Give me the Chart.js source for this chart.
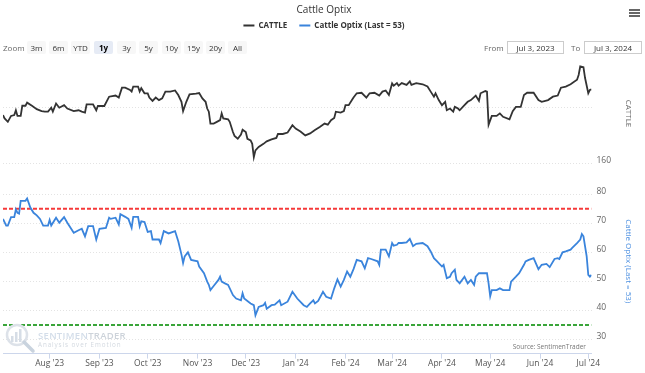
<!DOCTYPE html>
<html><head><meta charset="utf-8">
<script src="https://cdn.jsdelivr.net/npm/chart.js@4.4.1/dist/chart.umd.min.js"></script>
<style>
html,body{margin:0;padding:0;background:#fff;}
#wrap{position:relative;width:645px;height:373px;font-family:"Open Sans",sans-serif;overflow:hidden;}
#c{position:absolute;left:0;top:0;}
.ov{position:absolute;white-space:nowrap;z-index:2;}
.btn{position:absolute;top:41px;height:13px;line-height:13px;width:19px;font-size:8px;color:#333;background:#f7f7f7;text-align:center;border-radius:2px;z-index:2;}
.btn.sel{background:#e6ebf5;font-weight:700;color:#000;}
.lbl{position:absolute;top:41px;height:13px;line-height:13px;font-size:8px;color:#666;z-index:2;}
.box{position:absolute;top:41px;height:11px;line-height:11px;border:1px solid #ccc;font-size:8px;color:#333;text-align:center;z-index:2;background:#fff;}
.bar{position:absolute;left:629px;width:11px;height:2px;background:#666;z-index:2;}
</style></head>
<body>
<div id="wrap">
<canvas id="c" width="645" height="373"></canvas>
<div class="lbl" style="left:3px">Zoom</div>
<div class="btn" style="left:27px">3m</div>
<div class="btn" style="left:49px">6m</div>
<div class="btn" style="left:71px">YTD</div>
<div class="btn sel" style="left:94px">1y</div>
<div class="btn" style="left:117px">3y</div>
<div class="btn" style="left:139px">5y</div>
<div class="btn" style="left:162px">10y</div>
<div class="btn" style="left:184px">15y</div>
<div class="btn" style="left:206px">20y</div>
<div class="btn" style="left:228px">All</div>
<div class="lbl" style="left:484px">From</div>
<div class="box" style="left:507px;width:55px">Jul 3, 2023</div>
<div class="lbl" style="left:571px">To</div>
<div class="box" style="left:584px;width:56px">Jul 3, 2024</div>
<div class="bar" style="top:9px"></div>
<div class="bar" style="top:12px"></div>
<div class="bar" style="top:15px"></div>
<svg class="ov" style="left:4px;top:322px" width="32" height="32" viewBox="0 0 32 32">
 <circle cx="13" cy="13" r="10" fill="none" stroke="#dde2e9" stroke-width="2.5"/>
 <rect x="7" y="14" width="2.5" height="6" fill="#d6dde6"/>
 <rect x="11" y="10" width="2.5" height="10" fill="#d6dde6"/>
 <rect x="15" y="7" width="2.5" height="13" fill="#d6dde6"/>
 <line x1="20" y1="20" x2="29" y2="29" stroke="#c9d3de" stroke-width="3.5" stroke-linecap="round"/>
</svg>
<div class="ov" style="left:38px;top:329px;font-size:9.5px;font-weight:600;letter-spacing:0.3px;"><span style="color:#d3dde9">SENTIMEN</span><span style="color:#cdd3da">TRADER</span></div>
<div class="ov" style="left:38px;top:340px;font-size:6.3px;letter-spacing:0.9px;color:#d3d9e0;">Analysis over Emotion</div>
<div class="ov" style="right:59px;top:342px;font-size:6.5px;color:#777;">Source: SentimenTrader</div>
</div>
<script>
const cattleDates = ['2023-07-03','2023-07-04','2023-07-06','2023-07-08','2023-07-10','2023-07-11','2023-07-12','2023-07-14','2023-07-15','2023-07-17','2023-07-18','2023-07-21','2023-07-24','2023-07-27','2023-07-29','2023-07-31','2023-08-02','2023-08-03','2023-08-05','2023-08-07','2023-08-10','2023-08-12','2023-08-16','2023-08-19','2023-08-21','2023-08-23','2023-08-24','2023-08-28','2023-08-30','2023-08-31','2023-09-04','2023-09-07','2023-09-11','2023-09-13','2023-09-15','2023-09-17','2023-09-20','2023-09-21','2023-09-22','2023-09-25','2023-09-26','2023-09-27','2023-09-29','2023-10-01','2023-10-02','2023-10-04','2023-10-06','2023-10-08','2023-10-10','2023-10-12','2023-10-15','2023-10-18','2023-10-20','2023-10-22','2023-10-23','2023-10-25','2023-10-27','2023-10-31','2023-11-02','2023-11-04','2023-11-06','2023-11-07','2023-11-08','2023-11-09','2023-11-11','2023-11-13','2023-11-15','2023-11-16','2023-11-17','2023-11-20','2023-11-21','2023-11-23','2023-11-24','2023-11-26','2023-11-28','2023-11-29','2023-12-01','2023-12-02','2023-12-04','2023-12-05','2023-12-06','2023-12-07','2023-12-09','2023-12-12','2023-12-14','2023-12-17','2023-12-20','2023-12-21','2023-12-24','2023-12-27','2023-12-30','2024-01-01','2024-01-04','2024-01-07','2024-01-10','2024-01-13','2024-01-16','2024-01-19','2024-01-21','2024-01-23','2024-01-25','2024-01-26','2024-01-29','2024-01-31','2024-02-01','2024-02-03','2024-02-05','2024-02-06','2024-02-08','2024-02-11','2024-02-14','2024-02-16','2024-02-19','2024-02-22','2024-02-24','2024-02-26','2024-02-28','2024-03-01','2024-03-02','2024-03-04','2024-03-05','2024-03-07','2024-03-10','2024-03-12','2024-03-13','2024-03-16','2024-03-20','2024-03-23','2024-03-25','2024-03-27','2024-03-28','2024-03-30','2024-04-01','2024-04-03','2024-04-04','2024-04-06','2024-04-08','2024-04-09','2024-04-11','2024-04-12','2024-04-15','2024-04-17','2024-04-19','2024-04-22','2024-04-24','2024-04-25','2024-04-28','2024-04-29','2024-04-30','2024-05-02','2024-05-05','2024-05-07','2024-05-09','2024-05-13','2024-05-15','2024-05-17','2024-05-20','2024-05-22','2024-05-24','2024-05-28','2024-05-31','2024-06-02','2024-06-06','2024-06-09','2024-06-12','2024-06-14','2024-06-17','2024-06-20','2024-06-24','2024-06-25','2024-06-26','2024-06-28','2024-06-29','2024-07-01','2024-07-02','2024-07-03'];
const cattleValues = [177.3,176.1,174.9,177.0,177.3,179.0,177.0,177.0,180.6,180.6,181.7,180.6,179.4,178.7,178.5,178.5,179.9,178.5,181.4,179.9,180.8,179.6,178.7,179.0,178.5,178.2,181.1,181.1,179.0,180.5,180.5,183.8,184.2,183.5,187.0,187.0,186.2,185.6,187.4,187.4,185.6,186.8,185.0,185.0,183.5,182.3,183.5,182.6,183.2,185.6,185.6,186.0,184.4,182.0,178.7,182.0,184.6,184.9,185.1,183.2,182.0,179.6,178.5,174.3,174.3,174.9,175.5,177.9,176.1,175.8,174.9,171.3,169.9,168.9,170.4,172.1,171.3,168.9,168.3,167.1,162.4,164.8,166.0,167.1,168.0,168.7,169.2,170.6,170.6,171.1,173.7,172.5,171.5,170.1,170.8,172.0,173.1,174.3,173.9,175.5,176.3,178.5,178.2,178.7,180.8,180.8,182.6,183.5,185.0,185.2,183.5,185.0,185.2,184.2,185.6,186.0,184.4,188.5,187.7,188.6,187.7,188.6,188.0,189.2,188.0,188.6,188.2,187.4,185.6,183.8,185.0,182.6,180.8,182.0,179.0,179.6,178.5,180.2,179.6,179.0,180.8,182.0,182.6,184.2,182.3,185.0,185.8,185.6,173.9,177.0,177.0,177.9,176.7,175.8,178.7,180.2,180.2,184.4,185.2,185.2,182.6,182.0,182.6,183.8,184.2,187.0,187.4,188.2,189.8,191.5,194.5,194.2,190.4,185.0,186.2,186.4];

const optixDates = ['2023-07-03','2023-07-05','2023-07-06','2023-07-08','2023-07-10','2023-07-11','2023-07-12','2023-07-13','2023-07-14','2023-07-17','2023-07-18','2023-07-20','2023-07-22','2023-07-24','2023-07-26','2023-07-28','2023-07-31','2023-08-01','2023-08-02','2023-08-05','2023-08-07','2023-08-10','2023-08-12','2023-08-16','2023-08-19','2023-08-21','2023-08-23','2023-08-25','2023-08-28','2023-08-30','2023-09-01','2023-09-05','2023-09-07','2023-09-08','2023-09-11','2023-09-13','2023-09-14','2023-09-17','2023-09-19','2023-09-21','2023-09-22','2023-09-25','2023-09-26','2023-09-27','2023-09-29','2023-10-01','2023-10-03','2023-10-04','2023-10-08','2023-10-09','2023-10-11','2023-10-14','2023-10-18','2023-10-20','2023-10-22','2023-10-23','2023-10-24','2023-10-26','2023-10-28','2023-11-01','2023-11-02','2023-11-05','2023-11-07','2023-11-08','2023-11-09','2023-11-11','2023-11-14','2023-11-15','2023-11-16','2023-11-18','2023-11-20','2023-11-23','2023-11-25','2023-11-28','2023-11-29','2023-11-30','2023-12-04','2023-12-06','2023-12-07','2023-12-09','2023-12-12','2023-12-13','2023-12-14','2023-12-17','2023-12-19','2023-12-22','2023-12-23','2023-12-27','2023-12-30','2024-01-02','2024-01-06','2024-01-08','2024-01-10','2024-01-12','2024-01-13','2024-01-15','2024-01-18','2024-01-20','2024-01-23','2024-01-25','2024-01-27','2024-01-29','2024-01-31','2024-02-02','2024-02-04','2024-02-06','2024-02-08','2024-02-11','2024-02-13','2024-02-15','2024-02-17','2024-02-21','2024-02-22','2024-02-23','2024-02-26','2024-02-28','2024-03-01','2024-03-02','2024-03-04','2024-03-05','2024-03-07','2024-03-10','2024-03-12','2024-03-14','2024-03-16','2024-03-20','2024-03-23','2024-03-25','2024-03-27','2024-03-29','2024-04-01','2024-04-02','2024-04-03','2024-04-04','2024-04-06','2024-04-07','2024-04-09','2024-04-10','2024-04-12','2024-04-15','2024-04-17','2024-04-19','2024-04-21','2024-04-22','2024-04-24','2024-04-26','2024-04-29','2024-04-30','2024-05-01','2024-05-02','2024-05-05','2024-05-07','2024-05-09','2024-05-13','2024-05-14','2024-05-17','2024-05-19','2024-05-22','2024-05-23','2024-05-25','2024-05-28','2024-05-31','2024-06-02','2024-06-05','2024-06-07','2024-06-10','2024-06-12','2024-06-13','2024-06-15','2024-06-17','2024-06-20','2024-06-21','2024-06-24','2024-06-26','2024-06-27','2024-06-28','2024-06-30','2024-07-01','2024-07-02','2024-07-03'];
const optixValues = [71.5,69.2,69.2,72.1,72.1,74.8,73.6,73.3,77.7,77.7,78.5,75.4,73.6,72.7,71.5,69.2,69.2,71.1,69.2,71.9,70.2,72.1,70.2,66.7,67.6,68.1,65.5,69.0,69.0,64.4,68.1,68.4,71.9,71.5,71.9,69.6,73.1,72.2,71.5,68.4,72.2,72.2,69.0,70.7,70.4,67.0,67.3,64.4,64.4,63.2,67.3,66.5,67.3,63.8,59.2,56.3,58.6,60.0,57.4,56.9,55.1,52.8,49.9,48.8,47.0,48.4,50.5,51.6,49.9,49.3,48.8,45.3,44.1,43.5,45.9,44.1,42.4,41.8,38.3,41.2,41.8,42.6,40.6,41.8,42.0,43.5,41.8,43.0,46.4,44.1,41.8,41.2,42.4,43.5,42.4,43.3,46.4,44.7,44.1,47.6,50.7,48.2,50.5,53.4,51.6,54.2,57.4,56.9,54.5,58.0,57.7,56.9,55.7,60.9,60.9,58.6,63.2,62.3,62.6,63.2,63.2,63.4,64.6,62.1,62.9,63.2,62.1,60.3,58.0,56.9,55.1,55.7,53.4,51.1,51.6,52.8,54.0,50.5,49.3,51.6,49.3,50.5,48.8,51.6,52.8,52.8,52.8,49.3,44.9,47.0,47.0,47.6,47.0,47.0,49.9,51.6,52.8,55.7,56.9,57.4,58.0,54.2,55.7,56.0,54.9,57.7,58.0,57.7,60.0,60.3,60.9,61.5,63.2,64.4,66.3,65.5,58.6,52.2,51.6,52.2];

const upperLevel = 75;
const lowerLevel = 35;
const monthTicks = ['2023-08-01','2023-09-01','2023-10-01','2023-11-01','2023-12-01','2024-01-01','2024-02-01','2024-03-01','2024-04-01','2024-05-01','2024-06-01','2024-07-01'];
const monthLabels = ["Aug '23","Sep '23","Oct '23","Nov '23","Dec '23","Jan '24","Feb '24","Mar '24","Apr '24","May '24","Jun '24","Jul '24"];
const cattleGrid = [160, 180];
const cattleTickLabels = [160];
const optixGrid = [30, 40, 50, 60, 70, 80];

const START = Date.UTC(2023, 6, 3);
const toDay = s => (Date.parse(s) - START) / 86400000;
const pts = (d, v) => d.map((s, i) => ({x: toDay(s), y: v[i]}));
const xMin = toDay(optixDates[0]);
const xMax = toDay(optixDates[optixDates.length - 1]);

Chart.defaults.font.family = '"Open Sans", sans-serif';
Chart.defaults.color = '#666';

const tickFont = {size: 8.5};
new Chart(document.getElementById('c'), {
  type: 'line',
  data: {
    datasets: [
      {label: 'CATTLE', data: pts(cattleDates, cattleValues), yAxisID: 'yC', borderColor: '#333333', backgroundColor: '#333333', borderWidth: 1.8, pointRadius: 0, tension: 0},
      {label: 'Cattle Optix (Last = 53)', data: pts(optixDates, optixValues), yAxisID: 'yO', borderColor: '#3a84dc', backgroundColor: '#3a84dc', borderWidth: 1.8, pointRadius: 0, tension: 0},
      {label: 'upper', data: [{x: xMin, y: upperLevel}, {x: xMax, y: upperLevel}], yAxisID: 'yO', borderColor: '#f53a3a', borderWidth: 2, borderDash: [4, 2], pointRadius: 0, order: 2},
      {label: 'lower', data: [{x: xMin, y: lowerLevel}, {x: xMax, y: lowerLevel}], yAxisID: 'yO', borderColor: '#3aa53a', borderWidth: 2, borderDash: [4, 2], pointRadius: 0, order: 2}
    ]
  },
  options: {
    responsive: false,
    animation: false,
    layout: {padding: {left: 3, right: 0, top: 0, bottom: 4.2}},
    plugins: {
      title: {display: true, text: 'Cattle Optix', color: '#333', font: {size: 10, weight: 'normal'}, padding: {top: 4, bottom: -6.5}},
      subtitle: {display: true, text: ' ', weight: 500, position: 'top', color: 'rgba(0,0,0,0)', font: {size: 10}, padding: {top: 0, bottom: 6.5}},
      legend: {
        display: true,
        labels: {
          usePointStyle: true, pointStyle: 'line', pointStyleWidth: 11, padding: 12,
          color: '#333', font: {size: 8, weight: 'bold'},
          filter: item => item.datasetIndex < 2
        }
      },
      tooltip: {enabled: false}
    },
    scales: {
      x: {
        type: 'linear', min: xMin, max: xMax,
        afterBuildTicks: s => { s.ticks = monthTicks.map(d => ({value: toDay(d)})); },
        ticks: {callback: (v, i) => monthLabels[i], autoSkip: false, maxRotation: 0, padding: 0, color: '#555', font: {size: 8.5}},
        grid: {drawOnChartArea: false, drawTicks: true, tickLength: 5, color: '#ccd6eb'},
        border: {color: '#ccd6eb', width: 1}
      },
      yC: {
        position: 'right', stack: 'panes', stackWeight: 110, min: 158.21, max: 197.5,
        afterBuildTicks: s => { s.ticks = cattleGrid.map(v => ({value: v})); },
        afterFit: s => { s.width = 53.5; },
        ticks: {callback: v => cattleTickLabels.includes(v) ? String(v) : '', labelOffset: -3, padding: 5, color: '#666', font: tickFont},
        grid: {color: '#e3e3e3', drawTicks: false},
        border: {display: false, dash: [1, 2]},
        title: {display: true, text: 'CATTLE', color: '#666', font: {size: 8}, padding: {top: 12, bottom: 0}}
      },
      yO: {
        position: 'right', stack: 'panes', stackWeight: 183, min: 25.14, max: 88.68,
        afterBuildTicks: s => { s.ticks = optixGrid.map(v => ({value: v})); },
        afterFit: s => { s.width = 53.5; },
        ticks: {labelOffset: -3, padding: 5, color: '#666', font: tickFont},
        grid: {color: '#e3e3e3', drawTicks: false},
        border: {display: false, dash: [1, 2]},
        title: {display: true, text: 'Cattle Optix (Last = 53)', color: '#4a8ee0', font: {size: 8}, padding: {top: 12, bottom: 0}}
      }
    }
  }
});
</script>
</body></html>
